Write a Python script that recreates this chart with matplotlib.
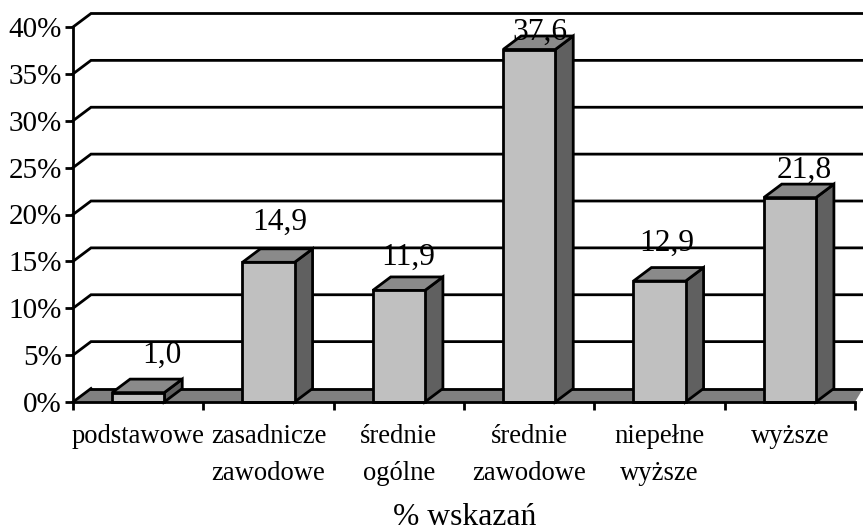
import matplotlib
matplotlib.use('Agg')
import matplotlib.pyplot as plt
from matplotlib.patches import Polygon

plt.rcParams['font.family'] = ['Liberation Serif', 'DejaVu Serif']

categories = ['podstawowe', 'zasadnicze\nzawodowe', 'średnie\nogólne',
              'średnie\nzawodowe', 'niepełne\nwyższe', 'wyższe']
values = [1.0, 14.9, 11.9, 37.6, 12.9, 21.8]
value_labels = ['1,0', '14,9', '11,9', '37,6', '12,9', '21,8']
y_ticks = [0, 5, 10, 15, 20, 25, 30, 35, 40]
y_labels = ['0%', '5%', '10%', '15%', '20%', '25%', '30%', '35%', '40%']

W, H = 863, 531
# przesuniecie etykiet wzgledem slupka, w pikselach
label_dx = [24, 11, 9, 11, 7, 14]
label_gap = [30, 32, 26, 10, 30, 20]

fig = plt.figure(figsize=(W / 100, H / 100), dpi=100, facecolor='white')
ax = fig.add_axes([73 / W, 1 - 402 / H, 782 / W, 375 / H])
ax.set_xlim(0, 6)
ax.set_ylim(0, 40)
ax.patch.set_visible(False)

# glebokosc wykresu 3D w jednostkach danych
dx = 18 / (782 / 6)
dy = 13.5 / (375 / 40)
bar_w = 0.4
lw = 2.0
x_end = 6 + 8 / (782 / 6)

# tylna sciana i linie siatki
for t in y_ticks[1:]:
    ax.plot([0, dx, x_end], [t, t + dy, t + dy], color='black', lw=lw,
            clip_on=False, zorder=1, solid_joinstyle='miter')

# podloga
floor = Polygon([(0, 0), (dx, dy), (x_end, dy), (6, 0)], closed=True, fc='#808080',
                ec='none', clip_on=False, zorder=2)
ax.add_patch(floor)
ax.plot([dx, x_end], [dy, dy], color='black', lw=lw, clip_on=False, zorder=2)
ax.plot([0, dx], [0, dy], color='black', lw=lw, clip_on=False, zorder=2)

# slupki
for i, v in enumerate(values):
    left = i + 0.5 - bar_w / 2
    right = left + bar_w
    side = Polygon([(right, 0), (right + dx, dy), (right + dx, v + dy), (right, v)], closed=True,
                   fc='#606060', ec='black', lw=lw, clip_on=False, zorder=3)
    top = Polygon([(left, v), (left + dx, v + dy), (right + dx, v + dy), (right, v)], closed=True,
                  fc='#8a8a8a', ec='black', lw=lw, clip_on=False, zorder=3)
    ax.add_patch(side)
    ax.add_patch(top)
    ax.bar(left, v, width=bar_w, align='edge', color='#c0c0c0', edgecolor='black', lw=lw,
           clip_on=False, zorder=4)
    ax.annotate(value_labels[i], xy=(left + bar_w / 2, v), xytext=(label_dx[i] * 0.72, label_gap[i] * 0.72),
                textcoords='offset points', ha='center', va='baseline', fontsize=22.7, zorder=5,
                annotation_clip=False)

for s in ['top', 'right']:
    ax.spines[s].set_visible(False)
for s in ['left', 'bottom']:
    ax.spines[s].set_linewidth(lw)
    ax.spines[s].set_zorder(6)

ax.set_yticks(y_ticks)
ax.set_yticklabels(y_labels, fontsize=21)
ax.set_xticks(range(7))
ax.set_xticklabels([])
ax.set_xticks([i + 0.5 for i in range(6)], minor=True)
ax.set_xticklabels(categories, minor=True, fontsize=19.2, linespacing=1.6)
ax.tick_params(axis='both', which='major', direction='out', length=6, width=lw, color='black')
ax.tick_params(axis='y', pad=2)
ax.tick_params(axis='x', which='minor', length=0, pad=16)

fig.text(465 / W, 1 - 525 / H, '% wskazań', ha='center', va='baseline', fontsize=22.8)

fig.savefig('out.png', dpi=100)
